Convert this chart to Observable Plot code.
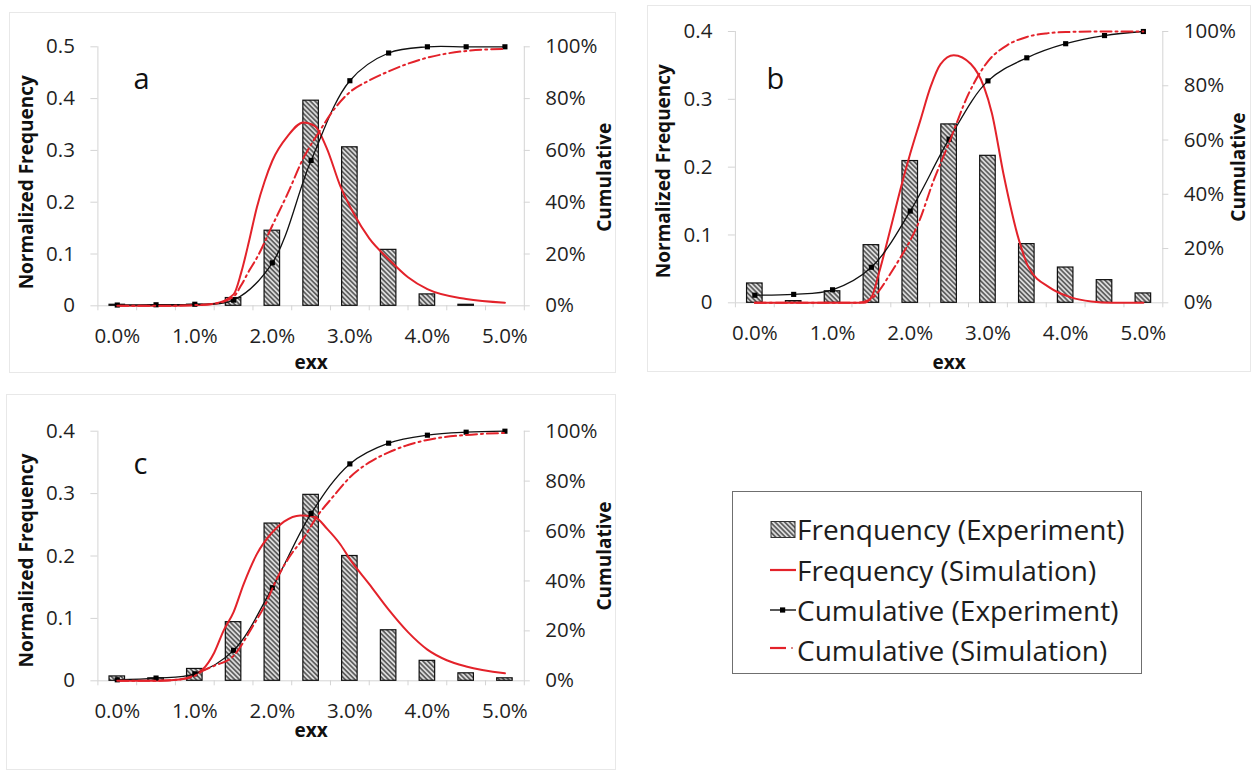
<!DOCTYPE html>
<html>
<head>
<meta charset="utf-8">
<script src="https://cdn.jsdelivr.net/npm/d3@7"></script>
<script src="https://cdn.jsdelivr.net/npm/@observablehq/plot@0.6"></script>
<style>
  html, body { margin: 0; padding: 0; background: #fff; }
  body { width: 1252px; height: 770px; position: relative; overflow: hidden; font-family: "Open Sans", sans-serif; }
  .panel { position: absolute; }
  .panel svg { overflow: visible; }
  .frame { position: absolute; border: 1px solid #e8e8e8; box-sizing: border-box; }
  #legend { position: absolute; left: 732px; top: 491px; width: 410px; height: 183px; border: 1.5px solid #6f6f6f; box-sizing: border-box; background: #fff; }
</style>
</head>
<body>
<!-- shared hatch fill for the experimental frequency bars -->
<svg width="0" height="0" style="position:absolute">
  <defs>
    <pattern id="hatch" patternUnits="userSpaceOnUse" width="3.4" height="3.4" patternTransform="rotate(45)">
      <rect width="3.4" height="3.4" fill="#dadada"></rect>
      <line x1="0" y1="1.7" x2="3.4" y2="1.7" stroke="#2a2a2a" stroke-width="1.2"></line>
    </pattern>
  </defs>
</svg>

<div class="frame" style="left:9px;top:12px;width:607px;height:361px"></div>
<div class="frame" style="left:647px;top:5px;width:604px;height:367px"></div>
<div class="frame" style="left:6px;top:394px;width:610px;height:376px"></div>

<div id="panelA" class="panel" style="left:0px;top:0px"></div>
<div id="panelB" class="panel" style="left:630px;top:0px"></div>
<div id="panelC" class="panel" style="left:0px;top:380px"></div>
<div id="legend"></div>

<script>
// ---- shared categories and tick labels ----
const strainBins = [0, 0.5, 1, 1.5, 2, 2.5, 3, 3.5, 4, 4.5, 5];           // exx bin centres (%)
const xTickValues = [0, 1, 2, 3, 4, 5];
const xTickLabels = ["0.0%", "1.0%", "2.0%", "3.0%", "4.0%", "5.0%"];
const cumTickValues = [0, 20, 40, 60, 80, 100];
const cumTickLabels = ["0%", "20%", "40%", "60%", "80%", "100%"];
const freqTicks05 = [0, 0.1, 0.2, 0.3, 0.4, 0.5];
const freqTickLabels05 = ["0", "0.1", "0.2", "0.3", "0.4", "0.5"];
const freqTicks04 = [0, 0.1, 0.2, 0.3, 0.4];
const freqTickLabels04 = ["0", "0.1", "0.2", "0.3", "0.4"];

// ---- panel a ----
const expFreqA = [0.002, 0.001, 0.002, 0.015, 0.145, 0.396, 0.306, 0.108, 0.022, 0.002, 0];
const expCumA  = [0.3, 0.4, 0.6, 2.2, 16.6, 56.1, 86.9, 97.6, 100, 100, 100];
const simFreqXA = [0, 0.5, 1, 1.25, 1.5, 1.6, 1.7, 1.8, 1.9, 2, 2.2, 2.4, 2.55, 2.7, 2.88, 3.05, 3.25, 3.5, 3.75, 4, 4.5, 5];
const simFreqA  = [0, 0, 0.001, 0.004, 0.022, 0.065, 0.125, 0.19, 0.24, 0.28, 0.328, 0.354, 0.347, 0.305, 0.23, 0.178, 0.13, 0.09, 0.055, 0.032, 0.013, 0.006];
const simCumXA = [0, 0.5, 1, 1.25, 1.5, 1.6, 1.7, 1.8, 2, 2.2, 2.4, 2.6, 2.8, 3, 3.25, 3.5, 3.75, 4, 4.5, 5];
const simCumA  = [0, 0, 0.3, 0.8, 3.5, 8, 13.5, 18.5, 31, 43.5, 57, 67, 76, 82.5, 87, 90.5, 93.5, 95.8, 98.4, 99.2];

// ---- panel b ----
const expFreqB = [0.0285, 0.0025, 0.017, 0.085, 0.209, 0.263, 0.2167, 0.0865, 0.052, 0.0334, 0.0138];
const expCumB  = [2.8, 3.1, 4.8, 13.1, 33.8, 60.3, 81.8, 90.3, 95.5, 98.5, 100];
const simFreqXB = [0, 0.5, 1, 1.4, 1.5, 1.6, 1.75, 1.88, 2, 2.13, 2.26, 2.39, 2.56, 2.78, 2.95, 3.05, 3.2, 3.4, 3.52, 3.8, 4.07, 4.33, 4.6, 5];
const simFreqB  = [0, 0, 0, 0, 0.008, 0.045, 0.111, 0.17, 0.22, 0.269, 0.318, 0.352, 0.365, 0.352, 0.318, 0.28, 0.19, 0.092, 0.053, 0.022, 0.008, 0.002, 0, 0];
const simCumXB = [0, 0.5, 1, 1.3, 1.5, 1.6, 1.75, 1.88, 2, 2.1, 2.3, 2.5, 2.75, 3, 3.25, 3.5, 3.75, 4, 4.5, 5];
const simCumB  = [0, 0, 0, 0, 1.5, 4.5, 11, 17, 23, 29, 45, 59, 77, 89, 95, 98, 99.3, 99.8, 100, 100];

// ---- panel c ----
const expFreqC = [0.007, 0.004, 0.019, 0.094, 0.252, 0.298, 0.2, 0.081, 0.032, 0.012, 0.004];
const expCumC  = [0.4, 1.1, 2.8, 12.2, 37.3, 67, 86.9, 95.2, 98.4, 99.6, 100];
const simFreqXC = [0, 0.5, 0.8, 1, 1.1, 1.25, 1.37, 1.5, 1.63, 1.8, 2, 2.15, 2.36, 2.54, 2.71, 2.88, 3, 3.25, 3.5, 3.75, 4, 4.25, 4.5, 5];
const simFreqC  = [0, 0, 0.002, 0.01, 0.018, 0.045, 0.08, 0.11, 0.155, 0.203, 0.238, 0.255, 0.265, 0.263, 0.243, 0.218, 0.195, 0.155, 0.114, 0.078, 0.05, 0.033, 0.023, 0.012];
const simCumXC = [0, 0.5, 0.8, 1, 1.1, 1.25, 1.5, 1.75, 1.9, 2.06, 2.25, 2.4, 2.58, 2.79, 3, 3.25, 3.5, 3.75, 4, 4.5, 5];
const simCumC  = [0, 0, 0.5, 2, 4, 6, 10, 22, 30, 41, 51, 57, 66, 74, 81.5, 87.5, 91.5, 94.5, 96.5, 98.5, 99.3];

// ---- styling ----
const red = "#e3222a";
const axisGray = "#d4d4d4";
const textColor = "#1f1f1f";
const font = "'Open Sans', sans-serif";
const dashDot = "11,4,2,4";

function drawPanel(cfg) {
  const { width, height, mt, mr, mb, ml, yMax, yTicks, yTickLabels } = cfg;
  const x0 = -0.25, x1 = 5.25;                       // category edges around the bins
  const ux = (x1 - x0) / (width - ml - mr);           // data units per pixel (x)
  const uy = yMax / (height - mt - mb);               // data units per pixel (y)
  const toY = c => c / 100 * yMax;                    // cumulative % on the secondary axis
  const edges = strainBins.map(v => v - 0.25).concat([x1]);

  const bars = strainBins.map((x, i) => ({ x, f: cfg.expFreq[i] }));
  const cum = strainBins.map((x, i) => ({ x, c: cfg.expCum[i] }));
  const simF = cfg.simFreqX.map((x, i) => ({ x, f: cfg.simFreq[i] }));
  const simC = cfg.simCumX.map((x, i) => ({ x, c: cfg.simCum[i] }));

  return Plot.plot({
    width, height,
    marginTop: mt, marginRight: mr, marginBottom: mb, marginLeft: ml,
    x: { domain: [x0, x1], axis: null },
    y: { domain: [0, yMax], axis: null },
    style: { fontFamily: font, background: "transparent", overflow: "visible" },
    marks: [
      // axes
      Plot.ruleX([x0, x1], { y1: 0, y2: yMax, stroke: axisGray, strokeWidth: 1 }),
      Plot.ruleY([0], { x1: x0, x2: x1, stroke: axisGray, strokeWidth: 1 }),
      Plot.ruleY(yTicks, { x1: x0 - 7 * ux, x2: x0, stroke: axisGray }),
      Plot.ruleY(cumTickValues, { y: toY, x1: x1, x2: x1 + 6 * ux, stroke: axisGray }),
      Plot.ruleX(edges, { y1: 0, y2: -5 * uy, stroke: axisGray }),
      // experimental frequency bars
      Plot.rect(bars, { x1: d => d.x - 0.1, x2: d => d.x + 0.1, y1: 0, y2: "f", fill: "url(#hatch)", stroke: "#111", strokeWidth: 1.2 }),
      // simulated frequency
      Plot.line(simF, { x: "x", y: "f", curve: "monotone-x", stroke: red, strokeWidth: 2 }),
      // experimental cumulative
      Plot.line(cum, { x: "x", y: d => toY(d.c), curve: "catmull-rom", stroke: "#111", strokeWidth: 1.3 }),
      Plot.dot(cum, { x: "x", y: d => toY(d.c), symbol: "square", r: 2.9, fill: "#000", stroke: "none" }),
      // simulated cumulative
      Plot.line(simC, { x: "x", y: d => toY(d.c), curve: "monotone-x", stroke: red, strokeWidth: 2, strokeDasharray: dashDot }),
      // tick labels
      Plot.text(yTicks, { x: x0, y: d => d, text: (d, i) => yTickLabels[i], textAnchor: "end", dx: -23, fontSize: 20.5, fill: textColor }),
      Plot.text(cumTickValues, { x: x1, y: toY, text: (d, i) => cumTickLabels[i], textAnchor: "start", dx: 21, fontSize: 20.5, fill: textColor }),
      Plot.text(xTickValues, { x: d => d, y: 0, text: (d, i) => xTickLabels[i], dy: 31, fontSize: 20.5, fill: textColor }),
      // axis titles
      Plot.text(["Normalized Frequency"], { frameAnchor: "left", textAnchor: "middle", lineAnchor: "middle", rotate: -90, dx: cfg.leftTitleDx, dy: cfg.leftTitleDy, fontSize: 19, fontWeight: "bold", fill: "#111" }),
      Plot.text(["Cumulative"], { frameAnchor: "right", textAnchor: "middle", lineAnchor: "middle", rotate: -90, dx: cfg.rightTitleDx, dy: cfg.rightTitleDy, fontSize: 19, fontWeight: "bold", fill: "#111" }),
      Plot.text(["exx"], { frameAnchor: "bottom", textAnchor: "middle", lineAnchor: "middle", dy: cfg.xTitleDy, fontSize: 19, fontWeight: "bold", fill: "#111" }),
      // panel letter
      Plot.text([cfg.letter], { frameAnchor: "top-left", textAnchor: "start", lineAnchor: "middle", dx: cfg.letterDx, dy: cfg.letterDy, fontSize: 29, fill: "#111" })
    ]
  });
}

document.getElementById("panelA").append(drawPanel({
  letter: "a", width: 620, height: 380, mt: 46.3, mr: 96.2, mb: 74.7, ml: 97.4,
  yMax: 0.5, yTicks: freqTicks05, yTickLabels: freqTickLabels05,
  expFreq: expFreqA, expCum: expCumA, simFreqX: simFreqXA, simFreq: simFreqA, simCumX: simCumXA, simCum: simCumA,
  leftTitleDx: -71.4, leftTitleDy: 6, rightTitleDx: 80.2, rightTitleDy: 1, xTitleDy: 56.7, letterDx: 35.6, letterDy: 32.7
}));

document.getElementById("panelB").append(drawPanel({
  letter: "b", width: 622, height: 380, mt: 31, mr: 89.7, mb: 77.7, ml: 104.9,
  yMax: 0.4, yTicks: freqTicks04, yTickLabels: freqTickLabels04,
  expFreq: expFreqB, expCum: expCumB, simFreqX: simFreqXB, simFreq: simFreqB, simCumX: simCumXB, simCum: simCumB,
  leftTitleDx: -71, leftTitleDy: 4, rightTitleDx: 76, rightTitleDy: 0, xTitleDy: 59.7, letterDx: 31, letterDy: 48
}));

document.getElementById("panelC").append(drawPanel({
  letter: "c", width: 620, height: 390, mt: 50.7, mr: 96.2, mb: 89.7, ml: 97.4,
  yMax: 0.4, yTicks: freqTicks04, yTickLabels: freqTickLabels04,
  expFreq: expFreqC, expCum: expCumC, simFreqX: simFreqXC, simFreq: simFreqC, simCumX: simCumXC, simCum: simCumC,
  leftTitleDx: -71.4, leftTitleDy: 4.5, rightTitleDx: 80.2, rightTitleDy: 0, xTitleDy: 49.7, letterDx: 35.6, letterDy: 33.3
}));

// ---- legend ----
const legendLabels = ["Frenquency (Experiment)", "Frequency (Simulation)", "Cumulative (Experiment)", "Cumulative (Simulation)"];
const NS = "http://www.w3.org/2000/svg";
const lg = document.createElementNS(NS, "svg");
lg.setAttribute("width", 407);
lg.setAttribute("height", 180);
lg.style.position = "absolute";
lg.style.left = "0px";
lg.style.top = "0px";
function el(name, attrs) {
  const e = document.createElementNS(NS, name);
  for (const k in attrs) e.setAttribute(k, attrs[k]);
  lg.appendChild(e);
  return e;
}
const rowMid = [37.5, 78, 118, 156];
const rowBase = [47.5, 89, 129, 169];
// key symbols
el("rect", { x: 38, y: rowMid[0] - 8, width: 24, height: 16, fill: "url(#hatch)", stroke: "#333", "stroke-width": 1 });
el("line", { x1: 37, x2: 63, y1: rowMid[1], y2: rowMid[1], stroke: red, "stroke-width": 2.2 });
el("line", { x1: 37, x2: 63, y1: rowMid[2], y2: rowMid[2], stroke: "#111", "stroke-width": 1.4 });
el("rect", { x: 47, y: rowMid[2] - 2.6, width: 5.2, height: 5.2, fill: "#000" });
el("line", { x1: 37, x2: 53, y1: rowMid[3], y2: rowMid[3], stroke: red, "stroke-width": 2.2 });
el("line", { x1: 58, x2: 60, y1: rowMid[3], y2: rowMid[3], stroke: "#d88", "stroke-width": 2 });
legendLabels.forEach((t, i) => {
  const tx = el("text", { x: 64, y: rowBase[i], "font-family": font, "font-size": 28, fill: "#1d1d1d" });
  tx.textContent = t;
});
document.getElementById("legend").appendChild(lg);
</script>
</body>
</html>
